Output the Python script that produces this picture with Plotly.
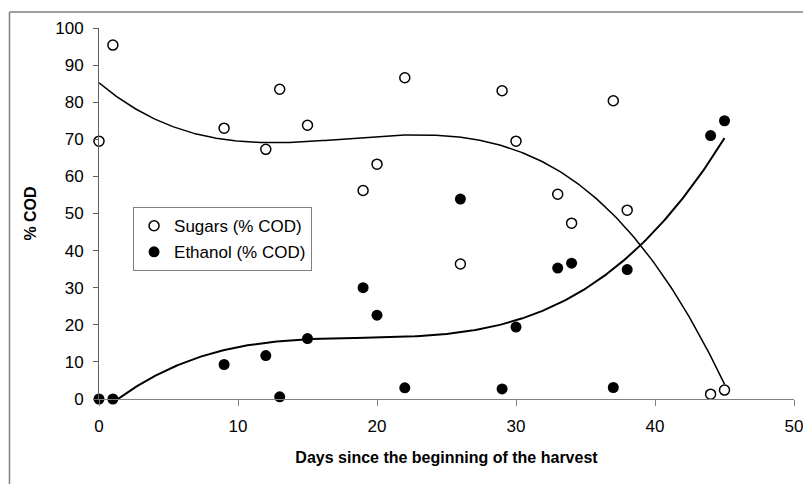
import numpy as np
import plotly.graph_objects as go

# Data
days = [0, 1, 9, 12, 13, 15, 19, 20, 22, 26, 29, 30, 33, 34, 37, 38, 44, 45]
sugars = [69.5, 95.4, 73.0, 67.3, 83.5, 73.8, 56.2, 63.3, 86.6, 36.4, 83.1, 69.5, 55.2, 47.4, 80.4, 50.9, 1.3, 2.4]
ethanol = [0.0, 0.0, 9.3, 11.7, 0.6, 16.3, 30.0, 22.6, 3.0, 53.9, 2.7, 19.4, 35.3, 36.6, 3.1, 34.9, 71.0, 75.0]

x_ticks = [0, 10, 20, 30, 40, 50]
y_ticks = [0, 10, 20, 30, 40, 50, 60, 70, 80, 90, 100]

# Polynomial trend lines (as in the spreadsheet chart), fitted to the data
fit_order = 3
xs = np.linspace(min(days), max(days), 300)
sug_fit = np.polyval(np.polyfit(days, sugars, fit_order), xs)
eth_fit = np.polyval(np.polyfit(days, ethanol, fit_order), xs)

FONT = "Liberation Sans, Arial, sans-serif"

fig = go.Figure()
fig.add_trace(go.Scatter(x=xs, y=sug_fit, mode="lines", line=dict(color="black", width=1.5),
                         showlegend=False, hoverinfo="skip"))
fig.add_trace(go.Scatter(x=xs, y=eth_fit, mode="lines", line=dict(color="black", width=2),
                         showlegend=False, hoverinfo="skip"))
fig.add_trace(go.Scatter(x=days, y=sugars, mode="markers", name="Sugars (% COD)",
                         legendgroup="s", cliponaxis=False,
                         marker=dict(symbol="circle", size=10, color="white",
                                     line=dict(color="black", width=1.5))))
fig.add_trace(go.Scatter(x=days, y=ethanol, mode="markers", name="Ethanol (% COD)",
                         legendgroup="e", cliponaxis=False,
                         marker=dict(symbol="circle", size=11, color="black",
                                     line=dict(color="black", width=0))))

fig.update_layout(
    width=803, height=484,
    margin=dict(l=99, r=9, t=28, b=85, autoexpand=False),
    paper_bgcolor="white", plot_bgcolor="white",
    font=dict(family=FONT, size=17, color="black"),
    showlegend=True,
    legend=dict(x=0.049, y=0.517, xanchor="left", yanchor="top",
                bordercolor="#808080", borderwidth=1, bgcolor="white",
                font=dict(family=FONT, size=17), tracegroupgap=1,
                itemclick=False, itemdoubleclick=False),
    xaxis=dict(range=[0, 50], tickvals=x_ticks, ticks="outside", ticklen=6,
               tickcolor="#808080", showline=True, linecolor="#808080", linewidth=1,
               showgrid=False, zeroline=False, ticklabelstandoff=6,
               ticklabeloverflow="allow", automargin=False,
               title=dict(text="<b>Days since the beginning of the harvest</b>",
                          font=dict(family=FONT, size=16), standoff=16)),
    yaxis=dict(range=[0, 100], tickvals=y_ticks, ticks="outside", ticklen=5,
               tickcolor="#606060", showline=True, linecolor="#606060", linewidth=1,
               showgrid=False, zeroline=False, ticklabelstandoff=6,
               ticklabeloverflow="allow", automargin=False,
               title=dict(text="<b>% COD</b>", font=dict(family=FONT, size=16), standoff=14)),
    shapes=[
        dict(type="line", xref="paper", yref="paper", x0=-0.1288, x1=-0.1288, y0=-0.3, y1=1.0431,
             line=dict(color="#808080", width=1.5)),
        dict(type="line", xref="paper", yref="paper", x0=-0.1288, x1=1.05, y0=1.0431, y1=1.0431,
             line=dict(color="#808080", width=1.5)),
    ],
)

fig.write_html("out.html")
